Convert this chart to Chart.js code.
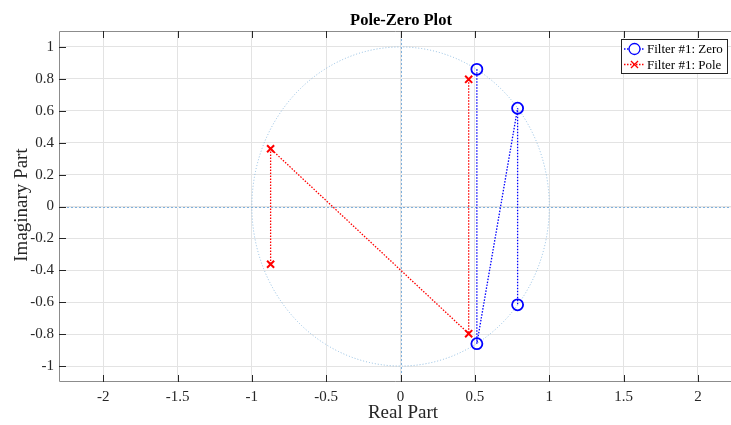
<!DOCTYPE html>
<html>
<head>
<meta charset="utf-8">
<script src="https://cdn.jsdelivr.net/npm/chart.js@4"></script>
<style>
  html, body { margin: 0; padding: 0; background: #fff; }
  #wrap { width: 731px; height: 425px; }
</style>
</head>
<body>
<div id="wrap"><canvas id="pz"></canvas></div>
<script>
// zeros and poles, in the order the dotted lines join them
const zeroRe = [0.513, 0.513, 0.787, 0.787]
const zeroIm = [0.860, -0.860, 0.616, -0.616]
const poleRe = [0.458, 0.458, -0.874, -0.874]
const poleIm = [0.797, -0.797, 0.362, -0.362]

const xTicks = [-2, -1.5, -1, -0.5, 0, 0.5, 1, 1.5, 2]
const xTickLabels = ['-2', '-1.5', '-1', '-0.5', '0', '0.5', '1', '1.5', '2']
const yTicks = [-1, -0.8, -0.6, -0.4, -0.2, 0, 0.2, 0.4, 0.6, 0.8, 1]
const yTickLabels = ['-1', '-0.8', '-0.6', '-0.4', '-0.2', '0', '0.2', '0.4', '0.6', '0.8', '1']

const xRange = [-2.297, 2.222]
const yRange = [-1.1, 1.1]

const seriesNames = ['Filter #1: Zero', 'Filter #1: Pole']

const FONT = '"Liberation Serif", "Times New Roman", serif'
const INK = '#262626'
const REF = '#8dbbe0'

const toPoints = (re, im) => re.map((x, i) => ({x: x, y: im[i]}))

// unit circle, the two axes lines, frame, inward ticks, title, labels, legend
const decor = {
  id: 'decor',
  beforeDatasetsDraw(chart) {
    const ctx = chart.ctx
    const a = chart.chartArea
    const xs = chart.scales.x, ys = chart.scales.y
    const cx = xs.getPixelForValue(0), cy = ys.getPixelForValue(0)
    const rx = xs.getPixelForValue(1) - cx
    const ry = cy - ys.getPixelForValue(1)
    ctx.save()
    ctx.beginPath()
    ctx.rect(a.left, a.top, a.right - a.left, a.bottom - a.top)
    ctx.clip()
    ctx.lineWidth = 1
    ctx.setLineDash([1, 2])
    ctx.strokeStyle = REF
    ctx.beginPath()
    ctx.ellipse(cx, cy, rx, ry, 0, 0, Math.PI * 2)
    ctx.stroke()
    // white under the axis lines so the grey grid does not show through
    ctx.setLineDash([])
    ctx.strokeStyle = '#f4f4f4'
    ctx.beginPath()
    ctx.moveTo(a.left, Math.round(cy) + 0.5)
    ctx.lineTo(a.right, Math.round(cy) + 0.5)
    ctx.moveTo(Math.round(cx) + 0.5, a.top)
    ctx.lineTo(Math.round(cx) + 0.5, a.bottom)
    ctx.stroke()
    ctx.setLineDash([2, 2])
    ctx.strokeStyle = '#7fb0dc'
    ctx.beginPath()
    ctx.moveTo(a.left, Math.round(cy) + 0.5)
    ctx.lineTo(a.right, Math.round(cy) + 0.5)
    ctx.moveTo(Math.round(cx) + 0.5, a.top)
    ctx.lineTo(Math.round(cx) + 0.5, a.bottom)
    ctx.stroke()
    ctx.restore()
  },
  afterDraw(chart) {
    const ctx = chart.ctx
    const a = chart.chartArea
    const xs = chart.scales.x, ys = chart.scales.y
    ctx.save()
    // frame
    ctx.strokeStyle = '#8c8c8c'
    ctx.lineWidth = 1
    ctx.beginPath()
    ctx.moveTo(a.right, a.top + 0.5)
    ctx.lineTo(a.left + 0.5, a.top + 0.5)
    ctx.lineTo(a.left + 0.5, a.bottom - 0.5)
    ctx.lineTo(a.right, a.bottom - 0.5)
    ctx.stroke()
    // inward ticks
    ctx.strokeStyle = INK
    ctx.beginPath()
    xTicks.forEach(function(v) {
      const px = Math.round(xs.getPixelForValue(v)) + 0.5
      ctx.moveTo(px, a.bottom); ctx.lineTo(px, a.bottom - 7)
      ctx.moveTo(px, a.top); ctx.lineTo(px, a.top + 7)
    })
    yTicks.forEach(function(v) {
      const py = Math.round(ys.getPixelForValue(v)) + 0.5
      ctx.moveTo(a.left, py); ctx.lineTo(a.left + 7, py)
    })
    ctx.stroke()

    // title and axis labels
    ctx.fillStyle = '#000'
    ctx.textAlign = 'center'
    ctx.textBaseline = 'alphabetic'
    ctx.font = 'bold 16.5px ' + FONT
    ctx.fillText('Pole-Zero Plot', 401, 24.5)
    ctx.fillStyle = INK
    ctx.font = '19px ' + FONT
    ctx.fillText('Real Part', 403, 418)
    ctx.save()
    ctx.translate(27, 205)
    ctx.rotate(-Math.PI / 2)
    ctx.fillText('Imaginary Part', 0, 0)
    ctx.restore()

    // legend
    const lx = 621, ly = 39, lw = 106, lh = 34
    ctx.fillStyle = '#fff'
    ctx.fillRect(lx, ly, lw, lh)
    ctx.strokeStyle = INK
    ctx.lineWidth = 1
    ctx.strokeRect(lx + 0.5, ly + 0.5, lw, lh)
    ctx.font = '13px ' + FONT
    ctx.textAlign = 'left'
    ctx.textBaseline = 'middle'
    chart.data.datasets.forEach(function(ds, i) {
      const yy = ly + 10 + i * 15.5
      ctx.strokeStyle = ds.borderColor
      ctx.lineWidth = 1.3
      ctx.setLineDash([1.5, 1.5])
      ctx.beginPath()
      ctx.moveTo(lx + 3, yy); ctx.lineTo(lx + 24, yy)
      ctx.stroke()
      ctx.setLineDash([])
      Chart.helpers.drawPoint(ctx, {
        pointStyle: ds.pointStyle, radius: ds.pointRadius, rotation: 0,
        borderWidth: ds.pointBorderWidth
      }, lx + 13.5, yy)
      ctx.fillStyle = '#000'
      ctx.fillText(ds.label, lx + 26, yy + 1)
    })
    ctx.restore()
  }
}

new Chart(document.getElementById('pz'), {
  type: 'scatter',
  data: {
    datasets: [
      {
        label: seriesNames[0],
        data: toPoints(zeroRe, zeroIm),
        showLine: true,
        borderColor: '#0000ff',
        borderWidth: 1.3,
        borderDash: [1.5, 1.5],
        pointStyle: 'circle',
        pointRadius: 5.5,
        pointBorderWidth: 1.8,
        pointBackgroundColor: 'rgba(0,0,0,0)',
        pointBorderColor: '#0000ff'
      },
      {
        label: seriesNames[1],
        data: toPoints(poleRe, poleIm),
        showLine: true,
        borderColor: '#ff0000',
        borderWidth: 1.3,
        borderDash: [1.5, 1.5],
        pointStyle: 'crossRot',
        pointRadius: 5,
        pointBorderWidth: 2,
        pointBorderColor: '#ff0000'
      }
    ]
  },
  options: {
    responsive: true,
    maintainAspectRatio: false,
    animation: false,
    events: [],
    layout: { padding: { top: 31, right: 0, left: 0, bottom: 0 }, autoPadding: false },
    plugins: {
      legend: { display: false },
      title: { display: false },
      tooltip: { enabled: false }
    },
    scales: {
      x: {
        type: 'linear',
        min: xRange[0],
        max: xRange[1],
        afterBuildTicks: function(s) { s.ticks = xTicks.map(v => ({value: v})) },
        afterFit: function(s) { s.height = 43 },
        border: { display: false },
        grid: { color: '#e3e3e3', lineWidth: 1, drawTicks: false },
        ticks: {
          padding: 6,
          color: INK,
          font: { family: FONT, size: 15 },
          callback: function(v) { return xTickLabels[xTicks.indexOf(v)] }
        }
      },
      y: {
        type: 'linear',
        min: yRange[0],
        max: yRange[1],
        afterBuildTicks: function(s) { s.ticks = yTicks.map(v => ({value: v})) },
        afterFit: function(s) { s.width = 59 },
        border: { display: false },
        grid: { color: '#e3e3e3', lineWidth: 1, drawTicks: false },
        ticks: {
          padding: 5,
          color: INK,
          font: { family: FONT, size: 15 },
          callback: function(v) {
            const i = yTicks.findIndex(t => Math.abs(t - v) < 1e-9)
            return yTickLabels[i]
          }
        }
      }
    }
  },
  plugins: [decor]
})
</script>
</body>
</html>
